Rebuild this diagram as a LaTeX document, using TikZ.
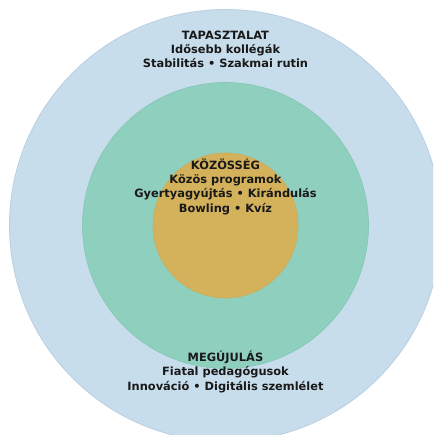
\documentclass[tikz,border=0pt]{standalone}
\usepackage{fontspec}
\setmainfont{DejaVu Sans}
\begin{document}
\begin{tikzpicture}[x=1pt,y=-1pt,
  ring/.style={circle,inner sep=0pt,minimum size=#1},
  label text/.style={align=center,inner sep=0pt,anchor=base,text=black!90,
    font=\bfseries\fontsize{11.4}{14.3}\selectfont}]
  \definecolor{outerblue}{RGB}{200,221,236}
  \definecolor{outeredge}{RGB}{185,208,227}
  \definecolor{midgreen}{RGB}{143,207,190}
  \definecolor{midedge}{RGB}{132,198,180}
  \definecolor{coregold}{RGB}{212,178,91}
  \definecolor{coreedge}{RGB}{206,172,86}
  \useasboundingbox (0,0) rectangle (433,435);
  \begin{scope}
    \clip (0,0) rectangle (433,435);
    \node[ring=432pt,fill=outerblue,draw=outeredge,line width=0.8pt] (outer) at (225.5,225.5) {};
    \node[ring=286pt,fill=midgreen,draw=midedge,line width=0.6pt] (middle) at (225.5,225.5) {};
    \node[ring=145pt,fill=coregold,draw=coreedge,line width=0.6pt] (core) at (225.5,225.5) {};
  \end{scope}
  % each block is anchored at the baseline of its last line
  \node[label text] (exp) at (225.5,68)
    {TAPASZTALAT\\Idősebb kollégák\\Stabilitás • Szakmai rutin};
  \node[label text] (com) at (225.5,212)
    {KÖZÖSSÉG\\Közös programok\\Gyertyagyújtás • Kirándulás\\Bowling • Kvíz};
  \node[label text] (ren) at (225.5,390)
    {MEGÚJULÁS\\Fiatal pedagógusok\\Innováció • Digitális szemlélet};
\end{tikzpicture}
\end{document}
